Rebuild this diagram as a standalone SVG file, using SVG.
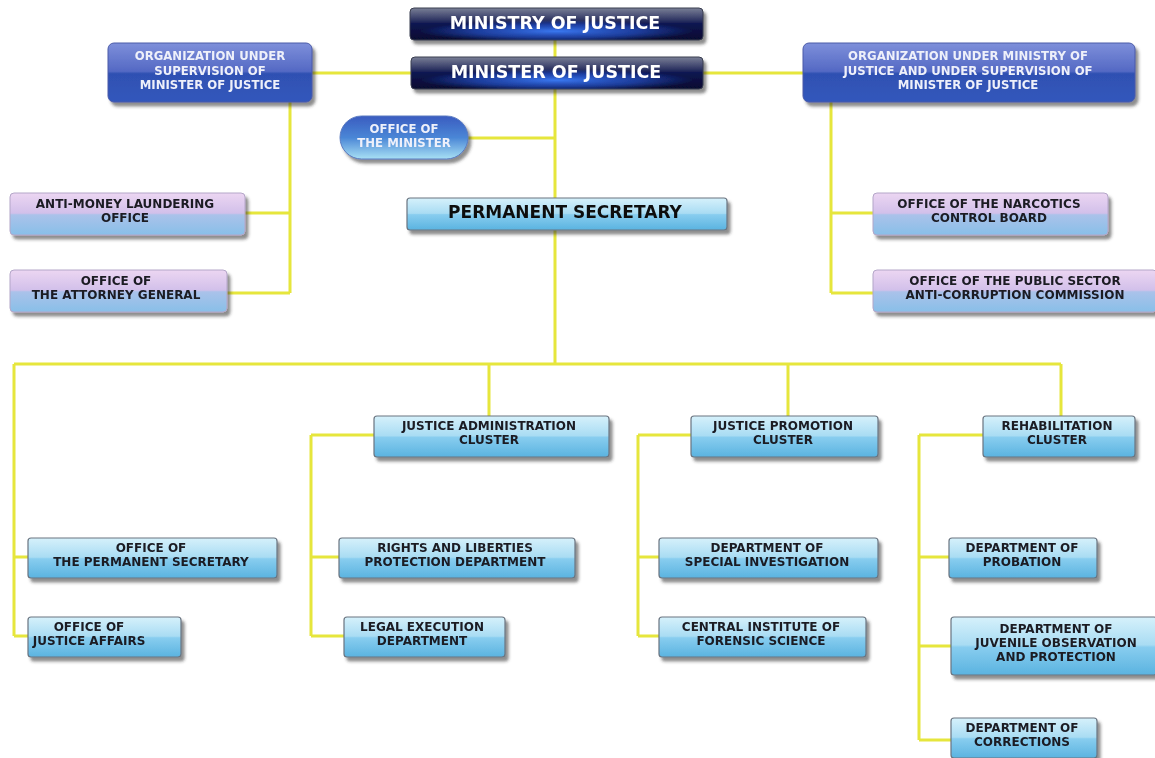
<svg xmlns="http://www.w3.org/2000/svg" width="1155" height="758" viewBox="0 0 1155 758">
<defs>
<filter id="sh" x="-10%" y="-20%" width="130%" height="160%">
<feDropShadow dx="3" dy="4" stdDeviation="1.5" flood-color="#333" flood-opacity="0.55"/>
</filter>
<linearGradient id="gBlue" x1="0" y1="0" x2="0" y2="1">
<stop offset="0" stop-color="#d6f1fb"/>
<stop offset="0.48" stop-color="#a9dcf3"/>
<stop offset="0.52" stop-color="#88cdef"/>
<stop offset="1" stop-color="#5ab3e0"/>
</linearGradient>
<linearGradient id="gPurple" x1="0" y1="0" x2="0" y2="1">
<stop offset="0" stop-color="#ecd6f2"/>
<stop offset="0.48" stop-color="#d2c0ea"/>
<stop offset="0.52" stop-color="#aac2ea"/>
<stop offset="1" stop-color="#88bfe8"/>
</linearGradient>
<linearGradient id="gOrg" x1="0" y1="0" x2="0" y2="1">
<stop offset="0" stop-color="#7e8fda"/>
<stop offset="0.48" stop-color="#5469c4"/>
<stop offset="0.52" stop-color="#2f50b2"/>
<stop offset="1" stop-color="#3258bc"/>
</linearGradient>
<linearGradient id="gDark" x1="0" y1="0" x2="0" y2="1">
<stop offset="0" stop-color="#7a8096"/>
<stop offset="0.4" stop-color="#2a3060"/>
<stop offset="0.5" stop-color="#0c1450"/>
<stop offset="1" stop-color="#060c30"/>
</linearGradient>
<radialGradient id="gGlow" cx="0.5" cy="0.6" r="0.5">
<stop offset="0" stop-color="#3a78f0" stop-opacity="1"/>
<stop offset="0.6" stop-color="#2a5ad8" stop-opacity="0.6"/>
<stop offset="1" stop-color="#2a5ad8" stop-opacity="0"/>
</radialGradient>
<linearGradient id="gPill" x1="0" y1="0" x2="0" y2="1">
<stop offset="0" stop-color="#3a5cc0"/>
<stop offset="0.5" stop-color="#4a86d6"/>
<stop offset="1" stop-color="#a8e0f4"/>
</linearGradient>
<style>
.c{stroke:#e6e63c;stroke-width:3;fill:none}
.bl{fill:url(#gBlue);stroke:#6a7480;stroke-width:1.2}
.pu{fill:url(#gPurple);stroke:#b4a6c8;stroke-width:1}
.og{fill:url(#gOrg);stroke:#4a5aa8;stroke-width:1}
.dk{fill:url(#gDark);stroke:#3a3e50;stroke-width:1}
.t{font-family:"DejaVu Sans",Verdana,sans-serif;font-weight:bold;font-size:12px;fill:#1a1a24;text-anchor:middle}
.tw{font-family:"DejaVu Sans",Verdana,sans-serif;font-weight:bold;font-size:11.7px;fill:#eef0fa;text-anchor:middle}
.tb{font-family:"DejaVu Sans",Verdana,sans-serif;font-weight:bold;font-size:17.5px;fill:#ffffff;text-anchor:middle}
.tk{font-family:"DejaVu Sans",Verdana,sans-serif;font-weight:bold;font-size:17px;fill:#111;text-anchor:middle}
</style>
</defs>
<rect width="1155" height="758" fill="#ffffff"/>
<g id="connectors">
<path class="c" d="M555 40V57"/>
<path class="c" d="M312 73H411M703 73H803"/>
<path class="c" d="M555 89V198M468 138H555"/>
<path class="c" d="M290 102V293M245 213H290M227 293H290"/>
<path class="c" d="M831 102V293M831 213H873M831 293H873"/>
<path class="c" d="M555 230V364M14 364H1061M14 364V636M489 364V416M788 364V416M1061 364V416"/>
<path class="c" d="M14 557H28M14 636H28"/>
<path class="c" d="M311 435H374M311 435V636M311 557H339M311 636H344"/>
<path class="c" d="M638 435H691M638 435V636M638 557H659M638 636H659"/>
<path class="c" d="M919 435H983M919 435V740M919 557H949M919 646H951M919 740H951"/>
</g>
<g id="ministry" filter="url(#sh)">
<rect class="dk" x="410" y="8" width="293" height="32" rx="4"/>
<rect x="420" y="18" width="273" height="22" fill="url(#gGlow)"/>
<text class="tb" x="555" y="29">MINISTRY OF JUSTICE</text>
</g>
<g id="minister" filter="url(#sh)">
<rect class="dk" x="411" y="57" width="292" height="32" rx="4"/>
<rect x="421" y="67" width="272" height="22" fill="url(#gGlow)"/>
<text class="tb" x="556" y="78">MINISTER OF JUSTICE</text>
</g>
<g id="org-left" filter="url(#sh)">
<rect class="og" x="108" y="43" width="204" height="59" rx="6"/>
<text class="tw" x="210" y="60">ORGANIZATION UNDER</text>
<text class="tw" x="210" y="75">SUPERVISION OF</text>
<text class="tw" x="210" y="89">MINISTER OF JUSTICE</text>
</g>
<g id="org-right" filter="url(#sh)">
<rect class="og" x="803" y="43" width="332" height="59" rx="6"/>
<text class="tw" x="968" y="60">ORGANIZATION UNDER MINISTRY OF</text>
<text class="tw" x="968" y="75">JUSTICE AND UNDER SUPERVISION OF</text>
<text class="tw" x="968" y="89">MINISTER OF JUSTICE</text>
</g>
<g id="office-minister" filter="url(#sh)">
<rect x="340" y="116" width="128" height="43" rx="21.5" fill="url(#gPill)" stroke="#5a7ac0" stroke-width="1"/>
<text class="tw" x="404" y="133">OFFICE OF</text>
<text class="tw" x="404" y="147">THE MINISTER</text>
</g>
<g id="permanent-secretary" filter="url(#sh)">
<rect class="bl" x="407" y="198" width="320" height="32" rx="3"/>
<text class="tk" x="565" y="218">PERMANENT SECRETARY</text>
</g>
<g id="anti-money" filter="url(#sh)">
<rect class="pu" x="10" y="193" width="235" height="42" rx="4"/>
<text class="t" x="125" y="208">ANTI-MONEY LAUNDERING</text>
<text class="t" x="125" y="222">OFFICE</text>
</g>
<g id="attorney" filter="url(#sh)">
<rect class="pu" x="10" y="270" width="217" height="42" rx="4"/>
<text class="t" x="116" y="285">OFFICE OF</text>
<text class="t" x="116" y="299">THE ATTORNEY GENERAL</text>
</g>
<g id="narcotics" filter="url(#sh)">
<rect class="pu" x="873" y="193" width="235" height="42" rx="4"/>
<text class="t" x="989" y="208">OFFICE OF THE NARCOTICS</text>
<text class="t" x="989" y="222">CONTROL BOARD</text>
</g>
<g id="anti-corruption" filter="url(#sh)">
<rect class="pu" x="873" y="270" width="284" height="42" rx="4"/>
<text class="t" x="1015" y="285">OFFICE OF THE PUBLIC SECTOR</text>
<text class="t" x="1015" y="299">ANTI-CORRUPTION COMMISSION</text>
</g>
<g id="admin-cluster" filter="url(#sh)">
<rect class="bl" x="374" y="416" width="235" height="41" rx="3"/>
<text class="t" x="489" y="430">JUSTICE ADMINISTRATION</text>
<text class="t" x="489" y="444">CLUSTER</text>
</g>
<g id="promotion-cluster" filter="url(#sh)">
<rect class="bl" x="691" y="416" width="187" height="41" rx="3"/>
<text class="t" x="783" y="430">JUSTICE PROMOTION</text>
<text class="t" x="783" y="444">CLUSTER</text>
</g>
<g id="rehab-cluster" filter="url(#sh)">
<rect class="bl" x="983" y="416" width="152" height="41" rx="3"/>
<text class="t" x="1057" y="430">REHABILITATION</text>
<text class="t" x="1057" y="444">CLUSTER</text>
</g>
<g id="office-ps" filter="url(#sh)">
<rect class="bl" x="28" y="538" width="249" height="40" rx="3"/>
<text class="t" x="151" y="552">OFFICE OF</text>
<text class="t" x="151" y="566">THE PERMANENT SECRETARY</text>
</g>
<g id="justice-affairs" filter="url(#sh)">
<rect class="bl" x="28" y="617" width="153" height="40" rx="3"/>
<text class="t" x="89" y="631">OFFICE OF</text>
<text class="t" x="89" y="645">JUSTICE AFFAIRS</text>
</g>
<g id="rights" filter="url(#sh)">
<rect class="bl" x="339" y="538" width="236" height="40" rx="3"/>
<text class="t" x="455" y="552">RIGHTS AND LIBERTIES</text>
<text class="t" x="455" y="566">PROTECTION DEPARTMENT</text>
</g>
<g id="legal-execution" filter="url(#sh)">
<rect class="bl" x="344" y="617" width="161" height="40" rx="3"/>
<text class="t" x="422" y="631">LEGAL EXECUTION</text>
<text class="t" x="422" y="645">DEPARTMENT</text>
</g>
<g id="dsi" filter="url(#sh)">
<rect class="bl" x="659" y="538" width="219" height="40" rx="3"/>
<text class="t" x="767" y="552">DEPARTMENT OF</text>
<text class="t" x="767" y="566">SPECIAL INVESTIGATION</text>
</g>
<g id="forensic" filter="url(#sh)">
<rect class="bl" x="659" y="617" width="207" height="40" rx="3"/>
<text class="t" x="761" y="631">CENTRAL INSTITUTE OF</text>
<text class="t" x="761" y="645">FORENSIC SCIENCE</text>
</g>
<g id="probation" filter="url(#sh)">
<rect class="bl" x="949" y="538" width="148" height="40" rx="3"/>
<text class="t" x="1022" y="552">DEPARTMENT OF</text>
<text class="t" x="1022" y="566">PROBATION</text>
</g>
<g id="juvenile" filter="url(#sh)">
<rect class="bl" x="951" y="617" width="206" height="58" rx="3"/>
<text class="t" x="1056" y="633">DEPARTMENT OF</text>
<text class="t" x="1056" y="647">JUVENILE OBSERVATION</text>
<text class="t" x="1056" y="661">AND PROTECTION</text>
</g>
<g id="corrections" filter="url(#sh)">
<rect class="bl" x="951" y="718" width="146" height="40" rx="3"/>
<text class="t" x="1022" y="732">DEPARTMENT OF</text>
<text class="t" x="1022" y="746">CORRECTIONS</text>
</g>
</svg>
